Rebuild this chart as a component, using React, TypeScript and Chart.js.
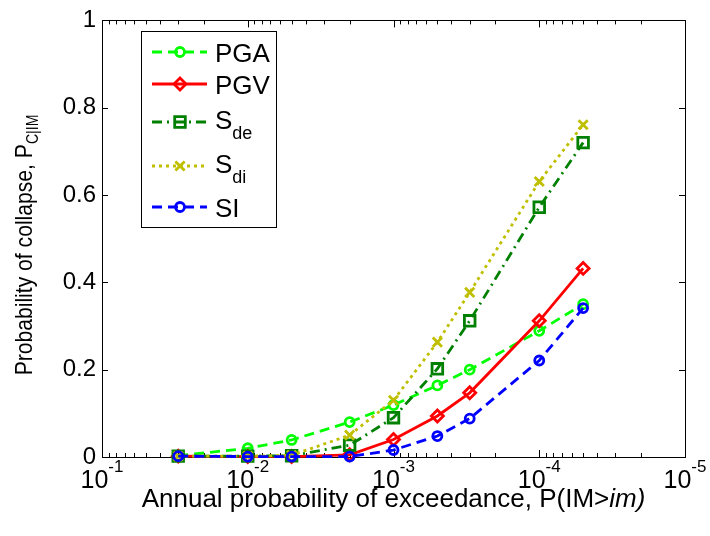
import React, { useEffect, useRef } from 'react';
import { Chart, registerables } from 'chart.js';

Chart.register(...registerables);

// ---- Data ----
const exceedance = [3e-2, 1e-2, 5e-3, 2e-3, 1e-3, 5e-4, 3e-4, 1e-4, 5e-5];
const pga = [0.003, 0.02, 0.039, 0.08, 0.119, 0.164, 0.2, 0.289, 0.35];
const pgv = [0.002, 0.001, 0.001, 0.005, 0.04, 0.094, 0.147, 0.312, 0.432];
const sde = [0.002, 0.002, 0.003, 0.027, 0.09, 0.202, 0.312, 0.572, 0.72];
const sdi = [0.002, 0.002, 0.004, 0.05, 0.13, 0.263, 0.377, 0.631, 0.761];
const si = [0.002, 0.001, 0.001, 0.001, 0.016, 0.048, 0.088, 0.221, 0.341];

const xMajorTicks = [1e-1, 1e-2, 1e-3, 1e-4, 1e-5];
const xTickExponents = ['-1', '-2', '-3', '-4', '-5'];
const yTicks = [0, 0.2, 0.4, 0.6, 0.8, 1];
const yTickLabels = ['0', '0.2', '0.4', '0.6', '0.8', '1'];

const FONT = "'Liberation Sans', Arial, sans-serif";

type Series = {
  main: string;
  sub: string;
  data: number[];
  color: string;
  dash: number[];
  style: string;
  radius: number;
  order: number;
};

const series: Series[] = [
  { main: 'PGA', sub: '', data: pga, color: '#00ff00', dash: [10, 6], style: 'circle', radius: 4.5, order: 5 },
  { main: 'PGV', sub: '', data: pgv, color: '#ff0000', dash: [], style: 'rectRot', radius: 6, order: 4 },
  { main: 'S', sub: 'de', data: sde, color: '#008000', dash: [10, 5, 2, 5], style: 'rect', radius: 7.5, order: 3 },
  { main: 'S', sub: 'di', data: sdi, color: '#bfbf00', dash: [3, 4], style: 'crossRot', radius: 6.5, order: 2 },
  { main: 'SI', sub: '', data: si, color: '#0000ff', dash: [10, 6], style: 'circle', radius: 4.5, order: 1 },
];

const legendRows = [52, 84, 122, 166, 207];
const LW = 2.8;

function drawMarker(ctx: CanvasRenderingContext2D, style: string, x: number, y: number, r: number, color: string) {
  ctx.save();
  ctx.setLineDash([]);
  ctx.strokeStyle = color;
  ctx.lineWidth = LW;
  ctx.beginPath();
  if (style === 'circle') {
    ctx.arc(x, y, r, 0, Math.PI * 2);
  } else if (style === 'rectRot') {
    ctx.moveTo(x, y - r);
    ctx.lineTo(x + r, y);
    ctx.lineTo(x, y + r);
    ctx.lineTo(x - r, y);
    ctx.closePath();
  } else if (style === 'rect') {
    const s = r * Math.SQRT1_2;
    ctx.rect(x - s, y - s, 2 * s, 2 * s);
  } else if (style === 'crossRot') {
    const s = r * Math.SQRT1_2;
    ctx.moveTo(x - s, y - s);
    ctx.lineTo(x + s, y + s);
    ctx.moveTo(x - s, y + s);
    ctx.lineTo(x + s, y - s);
  }
  ctx.stroke();
  ctx.restore();
}

const framePlugin = {
  id: 'frame',
  beforeDatasetsDraw(chart: any) {
    const { ctx, chartArea } = chart;
    const { left, right, top, bottom } = chartArea;
    const xs = chart.scales.x;
    const ys = chart.scales.y;
    ctx.save();
    ctx.strokeStyle = '#000';
    ctx.lineWidth = 1;
    ctx.setLineDash([]);
    ctx.strokeRect(Math.round(left) + 0.5, Math.round(top) + 0.5, Math.round(right - left), Math.round(bottom - top));
    ctx.beginPath();
    for (let e = -5; e <= -1; e++) {
      for (let m = 1; m <= 9; m++) {
        const v = m * Math.pow(10, e);
        if (v > 0.1 + 1e-12) continue;
        const px = Math.round(xs.getPixelForValue(v)) + 0.5;
        const len = m === 1 ? 7 : 4;
        ctx.moveTo(px, bottom);
        ctx.lineTo(px, bottom - len);
        ctx.moveTo(px, top);
        ctx.lineTo(px, top + len);
      }
    }
    yTicks.forEach((v) => {
      const py = Math.round(ys.getPixelForValue(v)) + 0.5;
      ctx.moveTo(left, py);
      ctx.lineTo(left + 6, py);
      ctx.moveTo(right, py);
      ctx.lineTo(right - 6, py);
    });
    ctx.stroke();
    ctx.restore();
  },
  afterDraw(chart: any) {
    const { ctx, chartArea } = chart;
    const xs = chart.scales.x;
    ctx.save();
    ctx.fillStyle = '#000';
    ctx.textBaseline = 'alphabetic';
    ctx.textAlign = 'left';

    // x tick labels 10^-n
    xMajorTicks.forEach((v, i) => {
      const px = xs.getPixelForValue(v);
      ctx.font = `25px ${FONT}`;
      const w1 = ctx.measureText('10').width;
      ctx.font = `17px ${FONT}`;
      const w2 = ctx.measureText(xTickExponents[i]).width;
      const start = px - (w1 + w2) / 2;
      ctx.font = `25px ${FONT}`;
      ctx.fillText('10', start, 488);
      ctx.font = `17px ${FONT}`;
      ctx.fillText(xTickExponents[i], start + w1, 472);
    });

    // x title
    const t1 = 'Annual probability of exceedance, P(IM>';
    const t2 = 'im)';
    ctx.font = `26px ${FONT}`;
    const tw1 = ctx.measureText(t1).width;
    ctx.font = `italic 26px ${FONT}`;
    const tw2 = ctx.measureText(t2).width;
    const cx = (chartArea.left + chartArea.right) / 2;
    const sx = cx - (tw1 + tw2) / 2;
    ctx.font = `26px ${FONT}`;
    ctx.fillText(t1, sx, 507);
    ctx.font = `italic 26px ${FONT}`;
    ctx.fillText(t2, sx + tw1, 507);

    // y title (rotated)
    const y1 = 'Probability of collapse, P';
    const y2 = 'C|IM';
    ctx.font = `24px ${FONT}`;
    const yw1 = ctx.measureText(y1).width;
    ctx.font = `16px ${FONT}`;
    const yw2 = ctx.measureText(y2).width;
    ctx.translate(32, 245);
    ctx.rotate(-Math.PI / 2);
    ctx.scale(0.88, 1);
    const sy = -(yw1 + yw2) / 2;
    ctx.font = `24px ${FONT}`;
    ctx.fillText(y1, sy, 0);
    ctx.font = `16px ${FONT}`;
    ctx.fillText(y2, sy + yw1, 6);
    ctx.setTransform(1, 0, 0, 1, 0, 0);

    // legend
    ctx.fillStyle = '#fff';
    ctx.fillRect(141.5, 31.5, 135, 196);
    ctx.strokeStyle = '#000';
    ctx.lineWidth = 1;
    ctx.strokeRect(141.5, 31.5, 135, 196);
    series.forEach((s, i) => {
      const ry = legendRows[i];
      ctx.save();
      ctx.strokeStyle = s.color;
      ctx.lineWidth = LW;
      ctx.setLineDash(s.dash);
      ctx.beginPath();
      ctx.moveTo(152, ry);
      ctx.lineTo(207, ry);
      ctx.stroke();
      ctx.restore();
      drawMarker(ctx, s.style, 180, ry, s.radius, s.color);
      ctx.fillStyle = '#000';
      ctx.font = `26px ${FONT}`;
      if (s.sub) {
        ctx.fillText(s.main, 215, ry + 7);
        const mw = ctx.measureText(s.main).width;
        ctx.font = `18px ${FONT}`;
        ctx.fillText(s.sub, 215 + mw, ry + 17);
      } else {
        ctx.fillText(s.main, 215, ry + 10);
      }
    });
    ctx.restore();
  },
};

export default function App() {
  const ref = useRef<HTMLCanvasElement | null>(null);

  useEffect(() => {
    document.body.style.margin = '0';
    const canvas = ref.current;
    if (!canvas) return;
    const chart = new Chart(canvas, {
      type: 'line',
      data: {
        datasets: series.map((s) => ({
          label: s.main + s.sub,
          data: exceedance.map((x, i) => ({ x, y: s.data[i] })),
          borderColor: s.color,
          borderWidth: LW,
          borderDash: s.dash,
          pointStyle: s.style as any,
          pointRadius: s.radius,
          pointBorderWidth: LW,
          pointBorderColor: s.color,
          pointBackgroundColor: 'rgba(0,0,0,0)',
          tension: 0,
          fill: false,
          clip: false as any,
          order: s.order,
        })),
      },
      options: {
        responsive: false,
        maintainAspectRatio: false,
        animation: false,
        events: [],
        layout: { padding: { top: 18, right: 25, left: 0, bottom: 0 } },
        plugins: {
          legend: { display: false },
          tooltip: { enabled: false },
        },
        scales: {
          x: {
            type: 'logarithmic',
            min: 1e-5,
            max: 1e-1,
            reverse: true,
            grid: { display: false, drawTicks: false },
            border: { display: false },
            ticks: { display: false },
            afterFit: (s: any) => {
              s.height = 79;
            },
          },
          y: {
            type: 'linear',
            min: 0,
            max: 1,
            grid: { display: false, drawTicks: false },
            border: { display: false },
            afterBuildTicks: (s: any) => {
              s.ticks = yTicks.map((v) => ({ value: v }));
            },
            ticks: {
              color: '#000',
              padding: 6,
              font: { family: FONT, size: 24 },
              callback: (_v: any, i: number) => yTickLabels[i],
            },
            afterFit: (s: any) => {
              s.width = 102;
            },
          },
        },
      },
      plugins: [framePlugin],
    });
    return () => chart.destroy();
  }, []);

  return <canvas ref={ref} width={710} height={536} style={{ display: 'block', width: 710, height: 536 }} />;
}
